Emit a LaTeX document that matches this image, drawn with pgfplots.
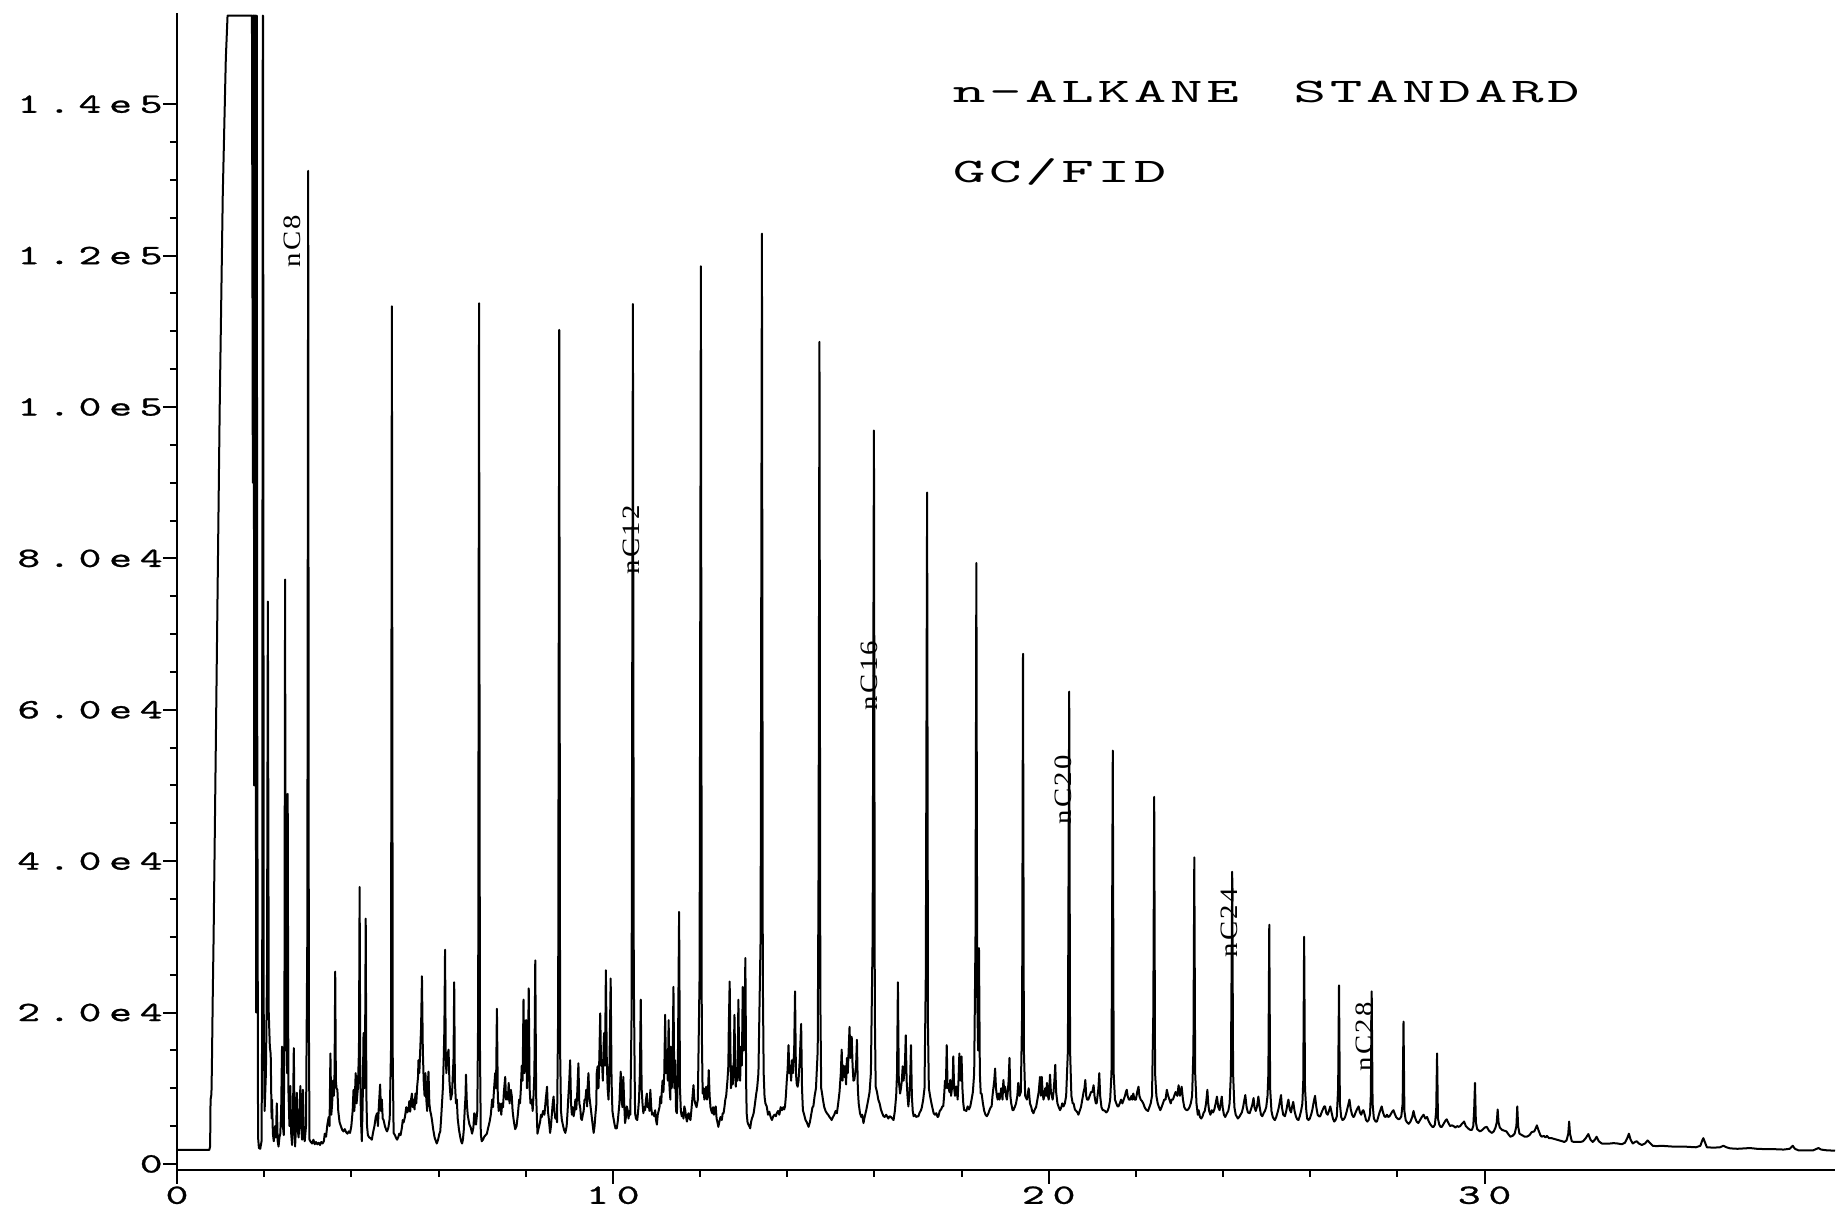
\documentclass[border=0pt]{standalone}
\usepackage{fontspec}
\usepackage{graphicx}
\usepackage{pgfplots}
\pgfplotsset{compat=1.18}
% plotter-like fonts
\newfontfamily\tickfont{lmmono10-regular}[Extension=.otf, LetterSpace=18, FakeBold=0.8]
\newfontfamily\ttlfont{lmmono10-regular}[Extension=.otf, LetterSpace=6]
\newfontfamily\lblfont{Liberation Serif}[LetterSpace=8]
\newcommand\tk[1]{\scalebox{1.55}[1]{\fontsize{14}{14}\tickfont #1}}
\newcommand\ttl[1]{\scalebox{1.8}[1]{\fontsize{17.2}{17.2}\ttlfont #1}}
\newcommand\pk[1]{\scalebox{1.15}[1]{\fontsize{12.5}{12.5}\lblfont #1}}

\begin{document}
\begin{tikzpicture}
\begin{axis}[
    scale only axis, width=829pt, height=578.3pt,
    xmin=0, xmax=38.04, ymin=-0.8, ymax=152,
    axis x line=bottom, axis y line=left,
    axis line style={-, line width=1pt},
    xtick={0,10,20,30}, minor x tick num=4,
    ytick={0,20,40,60,80,100,120,140}, minor y tick num=3,
    xticklabels={\tk{0},\tk{10},\tk{20},\tk{30}},
    yticklabels={\tk{0},\tk{2.0e4},\tk{4.0e4},\tk{6.0e4},\tk{8.0e4},\tk{1.0e5},\tk{1.2e5},\tk{1.4e5}},
    tick align=outside, major tick length=7pt, minor tick length=3.5pt,
    tick style={black, line width=1pt},
    yticklabel style={inner sep=0pt},
    xticklabel style={inner sep=1pt},
]
% FID signal, retention time in min, counts in thousands
\addplot[black, line width=1pt, line join=round] coordinates {
(0,1.85) (0.74,1.85) (0.76,2.3) (0.77,8.5) (0.79,9.2) (0.80,12.5) (0.82,22) (0.84,30) (0.87,45) (0.92,70) (0.98,100) (1.05,128) (1.12,146) (1.16,151.7)
(1.72,151.7) (1.73,121.5) (1.74,90) (1.745,151.7) (1.76,151.7) (1.77,50) (1.78,151.7) (1.80,151.7) (1.815,20) (1.83,151.7) (1.84,60) (1.86,3.5) (1.88,2.1) (1.91,2.0) (1.94,3.0)
(1.955,20) (1.968,151.7) (1.975,151.7) (1.99,20) (2.01,7) (2.04,12) (2.065,25) (2.085,74.3) (2.105,20)
(2.13,15.5) (2.15,14.5) (2.17,6) (2.18,8.5) (2.20,4) (2.22,3.0) (2.25,5) (2.27,3.5) (2.29,8.0) (2.31,3) (2.33,2.3) (2.35,3.5) (2.37,4.0) (2.39,7) (2.41,15.5) (2.43,5) (2.45,3.8)
(2.465,20) (2.48,77.2) (2.495,15) (2.51,23.9) (2.525,12) (2.54,48.9) (2.555,10) (2.58,5) (2.60,10.3) (2.62,4) (2.64,2.5) (2.66,6) (2.68,15.3) (2.70,4) (2.71,2.3) (2.73,5)
(2.75,9.4) (2.77,4.5) (2.79,3.5) (2.81,6) (2.83,10.3) (2.85,5) (2.87,3.2) (2.89,9.8) (2.91,4) (2.93,3) (2.96,5) (2.99,30) (3.01,131.2) (3.025,20) (3.04,3.2) (3.07,2.9)
(3.10,2.7) (3.13,3.2) (3.16,2.6) (3.19,2.9) (3.22,2.6) (3.25,2.8) (3.28,2.5) (3.31,2.9) (3.34,2.7) (3.37,3.0) (3.39,4.0) (3.42,3.6) (3.45,5.2) (3.48,6.2) (3.50,5) (3.52,14.6)
(3.54,6.5) (3.56,8) (3.58,11.0) (3.60,9) (3.615,12) (3.63,25.4) (3.645,11) (3.66,10) (3.68,9.8) (3.70,7) (3.73,5.5) (3.76,5.0) (3.79,4.5) (3.82,4.3) (3.85,4.6) (3.88,4.2) (3.91,4.0) (3.94,4.3) (3.97,4.1)
(4.00,5) (4.03,7) (4.05,9.8) (4.07,7) (4.10,12.0) (4.12,8) (4.15,10) (4.175,15) (4.19,36.6) (4.205,12) (4.22,6) (4.24,3.0) (4.26,8) (4.28,17.3) (4.30,10) (4.315,15) (4.33,32.4) (4.345,9)
(4.36,5) (4.38,3.8) (4.41,3.5) (4.44,3.4) (4.47,3.2) (4.50,4.2) (4.53,5) (4.56,6.2) (4.59,6.7) (4.61,5) (4.63,7.5) (4.66,10.5) (4.68,7) (4.70,8.5) (4.72,6) (4.74,5.8) (4.77,5) (4.80,4.5)
(4.82,4.3) (4.85,4.8) (4.88,6) (4.91,15) (4.93,113.3) (4.95,14) (4.97,4.1) (5.00,3.8) (5.03,3.4) (5.05,3.2) (5.08,3.6) (5.10,4.0) (5.13,3.8) (5.16,4.8) (5.18,5.8) (5.20,5.5) (5.23,6.2)
(5.26,7.5) (5.28,6.8) (5.31,7.1) (5.33,8.3) (5.35,6.9) (5.37,8.5) (5.39,9.3) (5.41,7.5) (5.43,8.5) (5.45,7.2) (5.47,9.3) (5.49,8) (5.51,10.2) (5.53,11.5) (5.54,13.7) (5.56,12) (5.58,15)
(5.60,18) (5.62,24.8) (5.64,15) (5.66,11) (5.68,9) (5.70,12.0) (5.72,8.5) (5.74,7) (5.75,10) (5.77,12.2) (5.79,8) (5.81,7) (5.83,6.5) (5.85,5.8) (5.88,4.5) (5.91,3.5) (5.94,3.0) (5.96,2.7) (5.99,3.2)
(6.02,4.0) (6.04,4.3) (6.06,6) (6.08,8) (6.10,10) (6.12,14) (6.135,18) (6.15,28.3) (6.165,15) (6.18,12) (6.20,14) (6.23,15.1) (6.25,11) (6.28,8.5) (6.31,9.3) (6.33,12) (6.345,14) (6.36,24.0)
(6.375,11) (6.40,8.0) (6.42,8.5) (6.44,6) (6.47,4.5) (6.50,3.5) (6.52,3.0) (6.54,2.7) (6.56,3.2) (6.58,4.5) (6.60,7) (6.62,9) (6.63,11.8) (6.65,8) (6.67,6.5) (6.69,5.8) (6.71,5.2) (6.74,4.8)
(6.77,4.0) (6.80,4.8) (6.82,6.7) (6.84,6.5) (6.86,5.2) (6.89,7) (6.91,20) (6.93,113.7) (6.95,16) (6.97,4.0) (6.99,3.0) (7.02,3.2) (7.05,3.6) (7.08,3.8) (7.11,4.0) (7.14,4.8) (7.17,5.5)
(7.20,6.5) (7.23,8.5) (7.25,7.5) (7.27,9.5) (7.30,12.0) (7.32,10) (7.34,20.5) (7.36,9) (7.38,7) (7.40,8) (7.42,7.8) (7.44,6.5) (7.46,8) (7.48,7.5) (7.50,9.5) (7.53,11.5) (7.55,8.5) (7.57,9)
(7.59,8.5) (7.61,10.7) (7.63,8) (7.66,9.8) (7.68,9.0) (7.70,7) (7.72,6) (7.74,5.2) (7.76,4.6) (7.79,5.0) (7.82,6.5) (7.85,8.5) (7.87,8.0) (7.89,10) (7.91,13) (7.93,11) (7.95,21.7) (7.97,12) (7.99,13)
(8.01,19.0) (8.03,10) (8.05,13) (8.07,23.2) (8.09,10) (8.11,8) (8.14,8.5) (8.16,7) (8.18,9) (8.20,12) (8.22,26.9) (8.24,9) (8.27,4.0) (8.30,4.8) (8.33,5.5) (8.35,6.5) (8.37,6.2) (8.40,7)
(8.43,6.5) (8.46,8.5) (8.49,10.2) (8.51,7) (8.53,6) (8.56,4.1) (8.58,5) (8.60,6.5) (8.62,8) (8.64,8.9) (8.66,7) (8.68,6) (8.70,6.5) (8.72,5.5) (8.745,20) (8.77,110.2) (8.79,15) (8.81,7)
(8.83,5.8) (8.86,5) (8.88,4.5) (8.91,4.1) (8.94,5) (8.96,6.8) (8.98,9) (9.00,11) (9.02,13.7) (9.04,8) (9.06,6.5) (9.08,7.5) (9.10,6.3) (9.12,7) (9.14,8.5) (9.16,7.2) (9.18,9) (9.21,13.3)
(9.23,8) (9.25,7.5) (9.27,6) (9.29,5.8) (9.31,6.5) (9.33,7) (9.35,8.5) (9.37,8.5) (9.39,9.8) (9.41,7.6) (9.42,10) (9.44,12) (9.46,9) (9.48,8) (9.50,7) (9.52,6) (9.54,5) (9.56,4.1) (9.58,5)
(9.60,6.5) (9.62,7.8) (9.63,12) (9.65,12.9) (9.67,10) (9.69,14) (9.71,19.9) (9.73,13) (9.75,13.7) (9.77,11) (9.79,16) (9.80,17.3) (9.82,13) (9.84,25.6) (9.86,14) (9.88,10) (9.90,8.5) (9.92,12)
(9.95,24.5) (9.97,11) (9.99,7) (10.01,6.2) (10.04,5.2) (10.06,4.7) (10.09,4.7) (10.11,5.5) (10.13,6.7) (10.15,8) (10.18,12.2) (10.20,8.5) (10.22,7.5) (10.24,11.5) (10.26,8) (10.28,5.4)
(10.30,6.2) (10.32,7.6) (10.34,7.1) (10.36,6) (10.38,7) (10.40,6.5) (10.43,20) (10.46,113.6) (10.48,25) (10.50,12) (10.51,6.7) (10.53,6) (10.56,5.8) (10.58,7) (10.60,8.5) (10.62,12)
(10.64,21.7) (10.66,10) (10.68,8) (10.70,6.7) (10.72,7.5) (10.74,7.1) (10.76,8.5) (10.78,9.3) (10.80,7.5) (10.82,8) (10.84,7) (10.86,9.8) (10.88,7.5) (10.90,6.5) (10.93,6.7) (10.95,6.3)
(10.97,7.1) (10.99,5.8) (11.01,5.2) (11.03,6.5) (11.05,7) (11.07,7.5) (11.09,8.9) (11.11,8) (11.12,9.3) (11.14,11) (11.16,9.5) (11.18,12) (11.20,19.7) (11.22,12) (11.24,15) (11.26,11)
(11.28,19.0) (11.30,10) (11.32,8.5) (11.33,15.5) (11.35,10) (11.37,12) (11.39,23.4) (11.41,10) (11.43,13.7) (11.45,7) (11.47,6.7) (11.49,12) (11.52,33.3) (11.54,10) (11.56,7) (11.58,6.3)
(11.60,6.8) (11.62,6) (11.64,7.6) (11.66,7.1) (11.68,6.2) (11.70,5.6) (11.72,6.5) (11.74,6.7) (11.76,6) (11.78,5.8) (11.80,7) (11.83,9) (11.85,10.4) (11.87,8.5) (11.89,8) (11.92,7.5)
(11.95,8.5) (11.99,25) (12.02,118.6) (12.04,18) (12.06,9.3) (12.08,10) (12.10,8.5) (12.12,9.3) (12.14,10.2) (12.16,8.5) (12.18,9) (12.20,12.4) (12.22,9) (12.24,7.5) (12.26,7) (12.28,6.7)
(12.30,7.5) (12.32,6.5) (12.34,7.2) (12.36,7.6) (12.38,6) (12.40,5.5) (12.42,4.9) (12.44,5.5) (12.47,6.2) (12.50,5.8) (12.52,6.7) (12.54,6.7) (12.56,7.5) (12.58,8.5) (12.60,9) (12.63,11.1)
(12.65,13) (12.66,18) (12.68,24.1) (12.70,14) (12.71,10) (12.73,12.9) (12.75,10.5) (12.77,12) (12.79,19.7) (12.81,12) (12.82,10.2) (12.84,12.5) (12.86,11) (12.88,21.7) (12.90,13) (12.92,11)
(12.94,15.5) (12.96,13) (12.98,23.4) (13.00,15) (13.02,18) (13.04,27.2) (13.06,10) (13.07,6.7) (13.09,5.5) (13.11,5.2) (13.13,5.0) (13.15,4.7) (13.17,5.5) (13.19,6.0) (13.21,6.3) (13.23,6.7)
(13.25,7.5) (13.27,8.4) (13.29,9.3) (13.31,10) (13.34,12) (13.39,30) (13.42,122.9) (13.44,25) (13.46,12) (13.48,8.9) (13.50,8) (13.53,7.6) (13.56,6.5) (13.59,6.9) (13.62,6.2) (13.65,5.8)
(13.68,6.3) (13.71,6.5) (13.74,6.3) (13.76,6.7) (13.79,7.0) (13.82,6.5) (13.85,7.5) (13.88,7.1) (13.91,7.5) (13.93,7.2) (13.95,7.6) (13.97,9) (13.99,11) (14.01,12.5) (14.03,15.7) (14.05,12)
(14.07,13) (14.09,11) (14.11,13.7) (14.13,12) (14.14,12.9) (14.16,15) (14.18,22.8) (14.20,12) (14.22,10.5) (14.24,10.2) (14.26,11) (14.29,14) (14.32,18.5) (14.34,10) (14.36,7.1) (14.39,6.5)
(14.42,5.8) (14.45,5.5) (14.49,4.9) (14.52,5.5) (14.55,6.5) (14.58,7.5) (14.60,7.6) (14.63,9) (14.66,10) (14.70,15) (14.72,40) (14.74,108.6) (14.76,22) (14.78,10) (14.80,9.3) (14.82,8.5)
(14.85,7.5) (14.88,7) (14.91,6.7) (14.94,6.5) (14.97,6.2) (15.00,6.0) (15.02,5.8) (15.05,6.2) (15.08,6.5) (15.11,7) (15.14,6.7) (15.17,8) (15.20,9.5) (15.23,12) (15.25,15.1) (15.27,11)
(15.29,13) (15.31,11.5) (15.33,12.9) (15.35,10.5) (15.37,14) (15.39,12) (15.41,15) (15.43,18.1) (15.45,14) (15.48,16.8) (15.50,13) (15.52,11) (15.54,11.1) (15.56,12) (15.58,13) (15.60,16.4)
(15.62,10) (15.64,8) (15.67,6.7) (15.70,6.2) (15.72,6.5) (15.75,5.4) (15.78,6.3) (15.81,7) (15.83,7.6) (15.86,8.5) (15.89,9.5) (15.92,12) (15.96,30) (15.99,96.9) (16.01,20) (16.03,10.2)
(16.06,9.5) (16.09,8.5) (16.12,8) (16.15,7.2) (16.18,6.7) (16.21,6.3) (16.24,6.2) (16.27,6.5) (16.30,6.2) (16.32,6.0) (16.35,6.3) (16.38,6.2) (16.41,6.0) (16.44,5.8) (16.47,7) (16.50,9)
(16.52,12) (16.54,24.0) (16.56,11) (16.59,9.3) (16.61,10) (16.63,11) (16.65,12.9) (16.67,11) (16.70,13) (16.72,17.0) (16.74,11) (16.76,9) (16.78,7.6) (16.80,9) (16.82,11) (16.84,15.7)
(16.86,9) (16.88,7) (16.90,6.3) (16.93,6.5) (16.96,6.2) (16.99,6.3) (17.01,6.3) (17.04,6.8) (17.07,7.1) (17.09,7.5) (17.12,8.5) (17.15,10) (17.18,25) (17.21,88.7) (17.23,18) (17.25,10)
(17.28,8.9) (17.31,8) (17.34,7.2) (17.36,6.7) (17.39,6.5) (17.42,6.7) (17.45,6.2) (17.47,6.3) (17.50,7) (17.53,7.2) (17.56,7.6) (17.58,7.6) (17.60,9) (17.62,11) (17.64,10) (17.66,15.7)
(17.68,10) (17.70,10.5) (17.72,9.5) (17.74,11.1) (17.76,9) (17.78,10) (17.80,11.5) (17.81,14.2) (17.83,10) (17.85,9) (17.87,10.2) (17.89,10.2) (17.91,8.5) (17.93,11) (17.95,14.6) (17.97,11)
(17.99,12) (18.00,14.2) (18.02,10) (18.04,8) (18.06,7.1) (18.08,7.1) (18.11,7) (18.14,7.6) (18.17,7.2) (18.20,7.6) (18.23,8.5) (18.26,9.5) (18.29,12) (18.32,30) (18.34,79.4) (18.36,22)
(18.38,15) (18.40,28.5) (18.42,12) (18.44,9.3) (18.46,9.3) (18.49,8) (18.52,7) (18.55,6.5) (18.58,6.3) (18.61,6.6) (18.64,7.1) (18.67,7.5) (18.69,7.6) (18.71,9) (18.73,10) (18.75,11)
(18.77,12.6) (18.79,10) (18.81,9) (18.83,8.5) (18.85,9.3) (18.87,8.5) (18.89,9) (18.91,10) (18.94,8.5) (18.96,11.1) (18.98,9.5) (19.00,10.2) (19.02,9) (19.04,8.5) (19.06,9.5) (19.08,11)
(19.10,14.0) (19.12,9) (19.14,8) (19.17,7.1) (19.19,7.1) (19.22,7.5) (19.25,8) (19.28,9) (19.30,10.7) (19.33,9) (19.36,9.5) (19.39,20) (19.41,67.4) (19.43,15) (19.46,9) (19.50,8.5)
(19.54,10.0) (19.57,8) (19.60,7.5) (19.62,7.0) (19.65,6.7) (19.68,7.2) (19.71,7.5) (19.74,8.5) (19.77,9.5) (19.80,11.5) (19.82,9) (19.84,11.5) (19.86,9.5) (19.88,8.5) (19.90,9) (19.92,10)
(19.94,9) (19.96,10.7) (19.98,9) (20.00,8.5) (20.03,11.8) (20.05,9.5) (20.07,9) (20.09,8.5) (20.11,9.5) (20.13,11) (20.15,13.1) (20.17,9.5) (20.20,8) (20.23,7.5) (20.26,7.1) (20.29,7.5)
(20.31,8) (20.34,7.6) (20.37,8) (20.40,9) (20.44,15) (20.47,62.4) (20.49,15) (20.52,9) (20.55,8) (20.57,8.0) (20.60,7.2) (20.63,7) (20.66,6.8) (20.68,6.5) (20.71,7) (20.74,7.5) (20.77,8.5)
(20.80,9.5) (20.82,10) (20.84,11.1) (20.86,9) (20.88,8.5) (20.91,8.5) (20.94,9) (20.97,9.5) (21.00,9.5) (21.03,10.4) (21.05,9) (21.08,8) (21.10,8.0) (21.12,9) (21.14,10) (21.16,12.0)
(21.18,9) (21.21,7.5) (21.24,7.1) (21.26,7.1) (21.29,7) (21.32,6.8) (21.35,7) (21.38,7.5) (21.41,8.5) (21.44,12) (21.47,54.6) (21.49,12) (21.52,8.5) (21.55,8) (21.58,7.6) (21.60,7.6)
(21.63,8) (21.66,8.5) (21.69,8) (21.72,8.5) (21.75,9) (21.77,9.5) (21.79,9.8) (21.81,9) (21.84,8.5) (21.87,8.5) (21.90,9) (21.92,8.5) (21.94,9.3) (21.97,8.5) (22.00,8.5) (22.03,9.5)
(22.06,10.2) (22.08,9) (22.11,8.5) (22.14,8.3) (22.17,8) (22.20,7.5) (22.23,7.2) (22.25,7.1) (22.28,7) (22.31,7.5) (22.34,8) (22.37,9) (22.40,20) (22.42,48.5) (22.44,12) (22.47,9)
(22.50,8) (22.53,7.5) (22.56,7.1) (22.59,7.5) (22.62,8) (22.65,8.5) (22.68,8.5) (22.71,9.8) (22.74,9) (22.77,8.5) (22.80,8) (22.82,8.5) (22.85,8.5) (22.88,9) (22.91,9.5) (22.95,9)
(22.98,10.4) (23.01,9) (23.05,10.2) (23.08,8.5) (23.11,7.5) (23.14,7.2) (23.17,7.1) (23.20,7.2) (23.23,7.5) (23.26,8) (23.29,9) (23.32,15) (23.34,40.5) (23.36,12) (23.39,8) (23.42,6.5)
(23.44,7.1) (23.47,6.2) (23.50,6.0) (23.53,6.3) (23.55,6.7) (23.58,7) (23.61,8) (23.64,9.8) (23.66,8) (23.68,7) (23.71,6.5) (23.74,7.1) (23.77,6.8) (23.80,7.2) (23.83,8) (23.86,8.9)
(23.89,7.5) (23.92,7.1) (23.94,7.8) (23.97,8.9) (23.99,7.5) (24.02,6.5) (24.05,6.2) (24.09,6.7) (24.12,7) (24.15,8) (24.18,12) (24.21,38.6) (24.23,12) (24.26,7.5) (24.29,6.5) (24.31,6.3)
(24.34,6.0) (24.37,6.2) (24.40,6.5) (24.43,6.8) (24.46,7.5) (24.49,8.5) (24.51,9.1) (24.54,7.5) (24.57,6.8) (24.61,6.7) (24.64,7.2) (24.67,7.8) (24.70,8.7) (24.72,7.5) (24.75,7) (24.78,7.6)
(24.81,8.9) (24.84,7.5) (24.87,6.5) (24.90,6.3) (24.93,6.7) (24.96,7) (24.99,7.5) (25.02,9) (25.04,12) (25.06,31.6) (25.08,10) (25.11,7) (25.14,6.2) (25.17,5.9) (25.19,5.8) (25.22,6.2)
(25.25,6.8) (25.28,7.5) (25.31,8.5) (25.33,9.1) (25.35,7.5) (25.38,6.5) (25.42,6.3) (25.45,7) (25.48,8) (25.50,8.5) (25.53,7.2) (25.56,6.8) (25.58,7.5) (25.61,8.2) (25.64,7) (25.67,6.3)
(25.70,5.9) (25.73,5.8) (25.76,6.3) (25.79,7) (25.82,8) (25.84,11) (25.86,30.0) (25.88,10) (25.91,7) (25.93,6) (25.96,5.8) (25.99,6.0) (26.02,6.5) (26.05,7.2) (26.08,8.2) (26.11,9.0)
(26.14,7.5) (26.17,6.5) (26.20,6.3) (26.23,6.3) (26.26,6.8) (26.29,7.2) (26.32,7.6) (26.34,7.6) (26.37,6.7) (26.40,6.5) (26.43,7) (26.46,7.6) (26.49,6.8) (26.52,6) (26.55,5.6) (26.58,5.8)
(26.61,6.3) (26.64,10) (26.66,23.6) (26.68,8) (26.71,6.2) (26.74,5.8) (26.77,5.9) (26.80,6.2) (26.83,6.8) (26.86,7.5) (26.90,8.5) (26.93,7.2) (26.96,6.5) (26.99,6.2) (27.01,6.3) (27.04,6.8)
(27.08,7.3) (27.11,7.6) (27.14,6.8) (27.17,6.5) (27.20,7) (27.22,7.1) (27.25,6.5) (27.28,5.8) (27.31,5.6) (27.34,5.8) (27.37,6.5) (27.39,9) (27.41,22.8) (27.43,8) (27.46,6) (27.50,5.6)
(27.53,5.6) (27.56,6.2) (27.59,6.8) (27.62,7.3) (27.64,7.6) (27.67,6.8) (27.70,6.3) (27.73,6.2) (27.76,6.5) (27.79,6.2) (27.82,6.3) (27.85,6.6) (27.88,6.9) (27.91,7.1) (27.94,6.6) (27.97,6.2)
(28.00,6.0) (28.03,5.9) (28.06,6.0) (28.09,6.3) (28.12,8) (28.14,18.8) (28.16,7) (28.19,5.8) (28.22,5.5) (28.26,5.3) (28.30,5.6) (28.34,6.2) (28.37,7.0) (28.40,6.2) (28.44,5.6) (28.48,5.4)
(28.52,5.8) (28.56,6.2) (28.60,6.5) (28.64,6.0) (28.68,6.2) (28.72,5.6) (28.76,5.2) (28.80,4.9) (28.83,4.9) (28.86,5.2) (28.89,7) (28.91,14.6) (28.93,6) (28.96,5.2) (28.99,4.9) (29.02,4.9)
(29.06,5.3) (29.10,5.7) (29.13,5.9) (29.17,5.4) (29.21,5.0) (29.25,5.1) (29.29,5.0) (29.33,4.8) (29.37,5.0) (29.41,4.9) (29.44,5.0) (29.48,5.3) (29.53,5.6) (29.57,5.0) (29.62,4.7) (29.67,4.5)
(29.71,4.5) (29.74,5) (29.76,7) (29.78,10.7) (29.80,5.5) (29.83,4.6) (29.87,4.4) (29.90,4.3) (29.95,4.5) (30.00,4.8) (30.05,4.9) (30.10,4.4) (30.14,4.2) (30.17,4.1) (30.21,4.3) (30.25,4.8)
(30.28,5.5) (30.30,7.2) (30.32,5.5) (30.35,4.8) (30.40,4.5) (30.45,4.4) (30.50,4.3) (30.55,3.9) (30.59,3.6) (30.64,3.7) (30.69,4) (30.73,5) (30.75,7.6) (30.77,5.0) (30.80,4.0) (30.86,3.8)
(30.92,3.6) (30.97,3.6) (31.03,3.8) (31.08,4.2) (31.14,4.3) (31.18,4.8) (31.20,5.1) (31.24,4.4) (31.28,3.8) (31.31,3.6) (31.36,3.7) (31.40,3.5) (31.43,3.7) (31.48,3.4) (31.54,3.4) (31.60,3.3)
(31.66,3.2) (31.72,3.1) (31.78,3.0) (31.83,2.9) (31.88,3.1) (31.92,4.0) (31.94,5.6) (31.96,4.0) (32.00,3.0) (32.05,2.9) (32.12,2.9) (32.20,2.9) (32.26,3.0) (32.32,3.4) (32.38,3.95) (32.43,3.2)
(32.48,2.9) (32.53,3.2) (32.57,3.6) (32.62,3.0) (32.69,2.7) (32.78,2.7) (32.88,2.7) (32.96,2.75) (33.05,2.7) (33.15,2.6) (33.22,2.8) (33.28,3.5) (33.31,4.0) (33.35,3.2) (33.40,2.7) (33.45,2.9)
(33.49,3.0) (33.54,2.7) (33.61,2.5) (33.68,2.7) (33.74,3.1) (33.79,2.8) (33.86,2.4) (33.95,2.35) (34.05,2.4) (34.18,2.35) (34.30,2.3) (34.45,2.3) (34.56,2.3) (34.70,2.25) (34.85,2.2) (34.95,2.4)
(35.00,3.2) (35.02,3.4) (35.06,2.8) (35.10,2.2) (35.25,2.15) (35.40,2.2) (35.48,2.4) (35.55,2.2) (35.63,2.06) (35.80,2.0) (35.95,2.05) (36.09,2.1) (36.25,2.0) (36.47,1.95) (36.65,1.95)
(36.86,1.9) (37.00,2.0) (37.07,2.4) (37.12,2.0) (37.20,1.8) (37.35,1.8) (37.54,1.8) (37.62,2.0) (37.66,2.1) (37.72,1.9) (37.85,1.8) (38.04,1.75)
};
\node[rotate=90, anchor=base west, inner sep=0pt] at (axis cs:2.83,118.4) {\pk{nC8}};
\node[rotate=90, anchor=base west, inner sep=0pt] at (axis cs:10.62,77.8) {\pk{nC12}};
\node[rotate=90, anchor=base west, inner sep=0pt] at (axis cs:16.08,59.9) {\pk{nC16}};
\node[rotate=90, anchor=base west, inner sep=0pt] at (axis cs:20.52,44.8) {\pk{nC20}};
\node[rotate=90, anchor=base west, inner sep=0pt] at (axis cs:24.32,27.2) {\pk{nC24}};
\node[rotate=90, anchor=base west, inner sep=0pt] at (axis cs:27.43,12.2) {\pk{nC28}};
\node[anchor=base west, inner sep=0pt] at (axis cs:17.79,140.2) {\ttl{n-ALKANE\ \hspace{0.3em}STANDARD}};
\node[anchor=base west, inner sep=0pt] at (axis cs:17.79,129.7) {\ttl{GC/FID}};
\coordinate (ll) at (rel axis cs:0,0);
\coordinate (ur) at (rel axis cs:1,1);
\end{axis}
\pgfresetboundingbox
\path[use as bounding box] ([xshift=-88.5pt,yshift=-25pt]ll) rectangle ([xshift=6pt,yshift=6.7pt]ur);
\end{tikzpicture}
\end{document}
